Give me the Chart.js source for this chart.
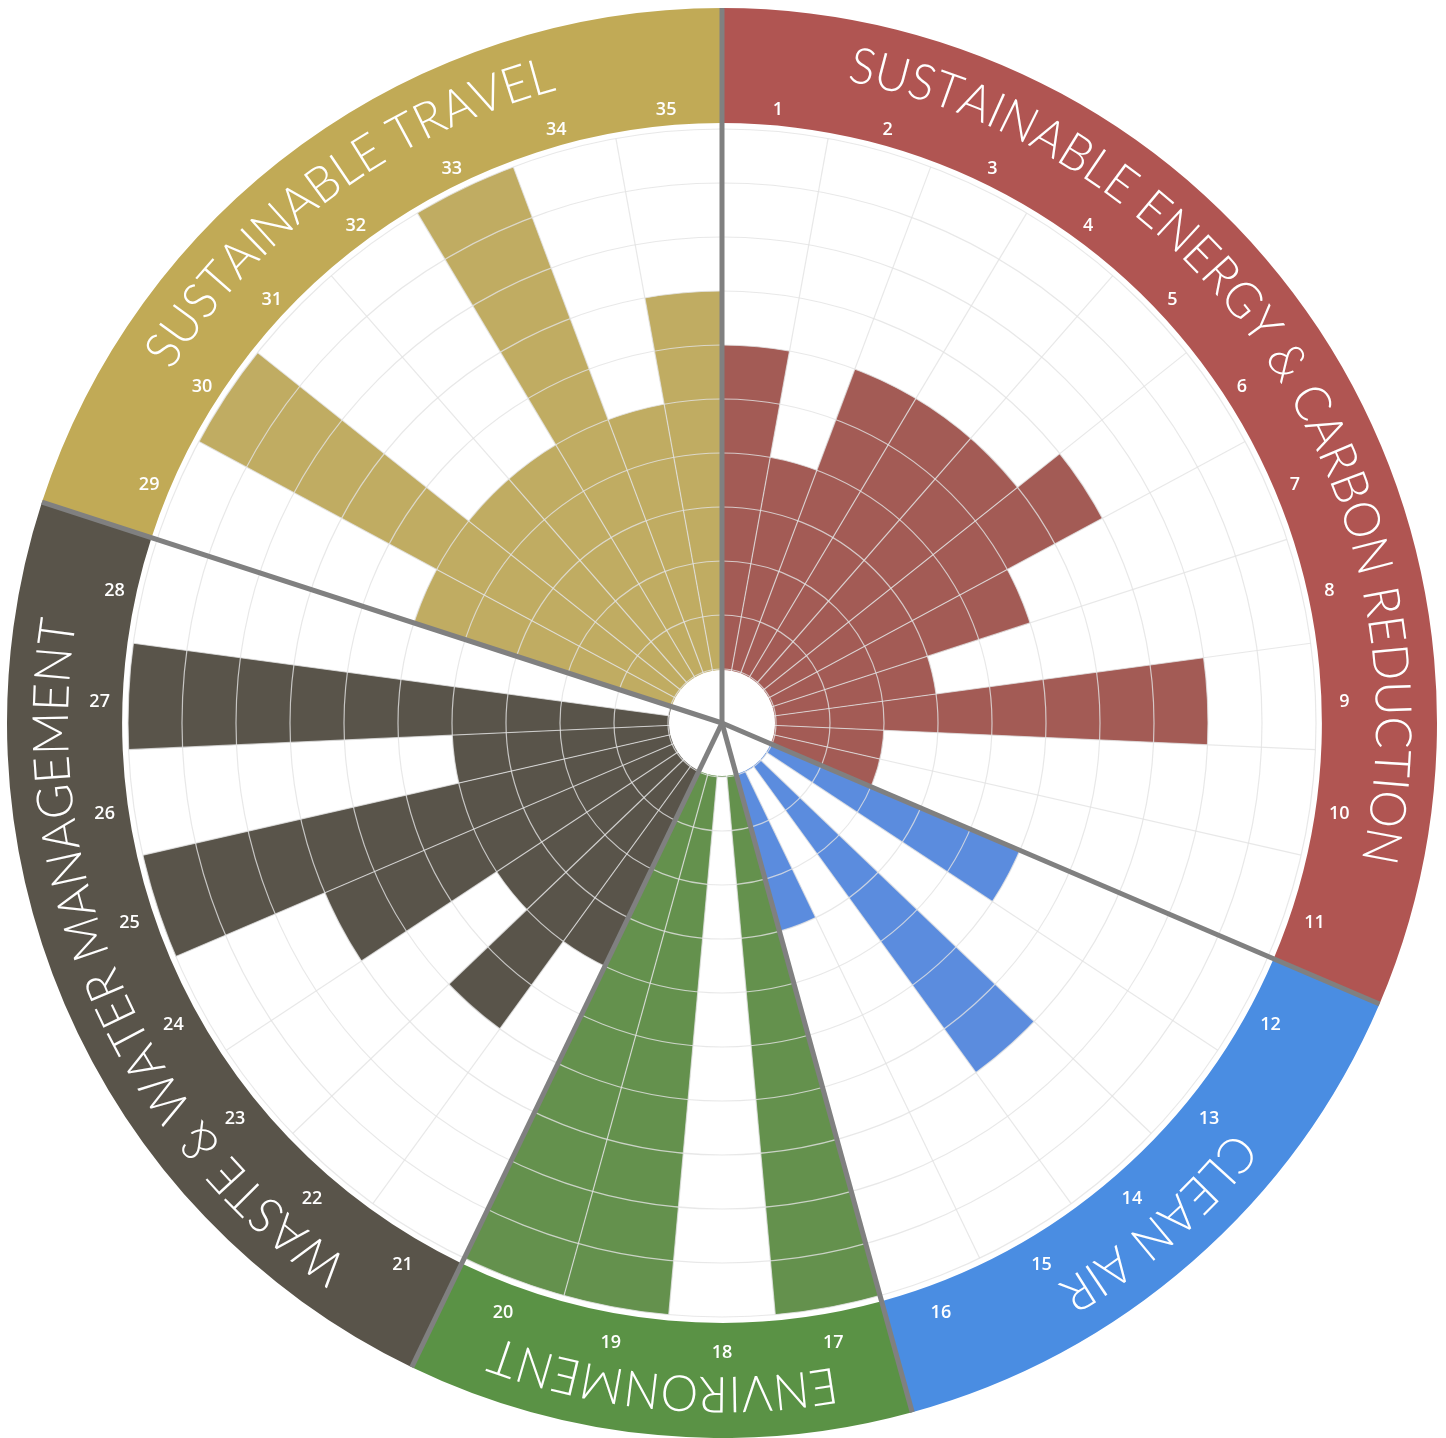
<!DOCTYPE html>
<html>
<head>
<meta charset="utf-8">
<script src="https://cdn.jsdelivr.net/npm/chart.js@4.4.1/dist/chart.umd.min.js"></script>
<style>
  html, body { margin: 0; padding: 0; background: #ffffff; }
  #wrap { position: relative; width: 1446px; height: 1438px; overflow: hidden; }
  #wrap canvas { position: absolute; left: 0; top: 0; }
</style>
</head>
<body>
<div id="wrap">
  <canvas id="band" width="1446" height="1438"></canvas>
  <canvas id="bars" width="1446" height="1438"></canvas>
</div>
<script>
// ---------------- data ----------------
const categories = [
  'SUSTAINABLE ENERGY & CARBON REDUCTION',
  'CLEAN AIR',
  'ENVIRONMENT',
  'WASTE & WATER MANAGEMENT',
  'SUSTAINABLE TRAVEL'
];
const categoryCounts = [11, 5, 4, 8, 7];
const sectorLabels = ['1','2','3','4','5','6','7','8','9','10','11','12','13','14','15','16','17','18',
  '19','20','21','22','23','24','25','26','27','28','29','30','31','32','33','34','35'];
const values = [6, 4, 6, 6, 6, 7, 5, 3, 8, 2, 2,
                5, 0, 7, 0, 3,
                10, 0, 10, 10,
                4, 6, 4, 7, 10, 4, 10, 0,
                5, 10, 5, 5, 10, 5, 7];
const scaleMin = -1;
const scaleMax = 10;

// ---------------- styles ----------------
const bandColors = ['#B05552', '#4A8DE2', '#5A9245', '#59544A', '#C1AA56'];
const barColors  = ['#A35B55', '#5B8CDE', '#64914D', '#59544A', '#C0AC62'];
const sectorColors = [];
categoryCounts.forEach((n, c) => { for (let k = 0; k < n; k++) sectorColors.push(barColors[c]); });

const BAND_OUTER = 715;
const NUM_R = 623;
const TITLE_R = 654;
const TITLE_XSCALE = 0.95;
const GRID = 'rgba(226,226,226,0.8)';

// ---------------- outer band (doughnut) ----------------
const titlePlugin = {
  id: 'titles',
  afterDatasetsDraw(chart) {
    const ctx = chart.ctx;
    const meta = chart.getDatasetMeta(0);
    ctx.save();
    ctx.fillStyle = '#ffffff';
    ctx.font = '300 50px Lato, "Open Sans", sans-serif';
    ctx.textAlign = 'center';
    ctx.textBaseline = 'alphabetic';
    meta.data.forEach((arc, i) => {
      const p = arc.getProps(['x', 'y', 'startAngle', 'endAngle']);
      const mid = (p.startAngle + p.endAngle) / 2;
      const chars = Array.from(categories[i]);
      const widths = chars.map(ch => ctx.measureText(ch).width * TITLE_XSCALE);
      const total = widths.reduce((a, b) => a + b, 0);
      let a = mid - total / 2 / TITLE_R;
      chars.forEach((ch, k) => {
        const ac = a + widths[k] / 2 / TITLE_R;
        ctx.save();
        ctx.translate(p.x + TITLE_R * Math.cos(ac), p.y + TITLE_R * Math.sin(ac));
        ctx.rotate(ac + Math.PI / 2);
        ctx.scale(TITLE_XSCALE, 1);
        ctx.fillText(ch, 0, 0);
        ctx.restore();
        a += widths[k] / TITLE_R;
      });
    });
    ctx.restore();
  }
};

new Chart(document.getElementById('band'), {
  type: 'doughnut',
  data: {
    labels: categories,
    datasets: [{ data: categoryCounts, backgroundColor: bandColors, borderWidth: 0, hoverOffset: 0 }]
  },
  options: {
    responsive: false,
    animation: false,
    events: [],
    cutout: '83.9%',
    rotation: 0,
    circumference: 360,
    layout: { padding: { left: 7, right: 9, top: 8, bottom: 0 } },
    plugins: { legend: { display: false }, tooltip: { enabled: false } }
  },
  plugins: [titlePlugin]
});

// ---------------- bars (polar area) ----------------
const overlayPlugin = {
  id: 'overlay',
  afterDraw(chart) {
    const ctx = chart.ctx;
    const s = chart.scales.r;
    const cx = s.xCenter, cy = s.yCenter;
    const r0 = s.getDistanceFromCenterForValue(0);
    const step = 2 * Math.PI / sectorLabels.length;
    ctx.save();
    // inner hole
    ctx.beginPath();
    ctx.arc(cx, cy, r0 - 1, 0, Math.PI * 2);
    ctx.fillStyle = '#ffffff';
    ctx.fill();
    // sector numbers
    ctx.font = '600 18px "Open Sans", sans-serif';
    ctx.fillStyle = '#ffffff';
    ctx.textAlign = 'center';
    ctx.textBaseline = 'top';
    sectorLabels.forEach((lab, i) => {
      const a = s.getIndexAngle(i) + step / 2 - Math.PI / 2;
      ctx.fillText(lab, cx + NUM_R * Math.cos(a), cy + NUM_R * Math.sin(a) - 2);
    });
    // category separators
    ctx.strokeStyle = '#808080';
    ctx.lineWidth = 5;
    let idx = 0;
    categoryCounts.forEach(n => {
      const a = s.getIndexAngle(idx) - Math.PI / 2;
      ctx.beginPath();
      ctx.moveTo(cx, cy);
      ctx.lineTo(cx + BAND_OUTER * Math.cos(a), cy + BAND_OUTER * Math.sin(a));
      ctx.stroke();
      idx += n;
    });
    ctx.restore();
  }
};

new Chart(document.getElementById('bars'), {
  type: 'polarArea',
  data: {
    labels: sectorLabels,
    datasets: [{ data: values, backgroundColor: sectorColors, borderWidth: 0 }]
  },
  options: {
    responsive: false,
    animation: false,
    events: [],
    layout: { padding: { left: 128, right: 130, top: 129, bottom: 121 } },
    plugins: { legend: { display: false }, tooltip: { enabled: false } },
    scales: {
      r: {
        min: scaleMin,
        max: scaleMax,
        startAngle: 0,
        ticks: { display: false, stepSize: 1 },
        grid: { circular: true, color: GRID, lineWidth: 1.2, z: 1 },
        angleLines: { display: true, color: GRID, lineWidth: 1.2 },
        pointLabels: { display: false }
      }
    }
  },
  plugins: [overlayPlugin]
});
</script>
</body>
</html>
